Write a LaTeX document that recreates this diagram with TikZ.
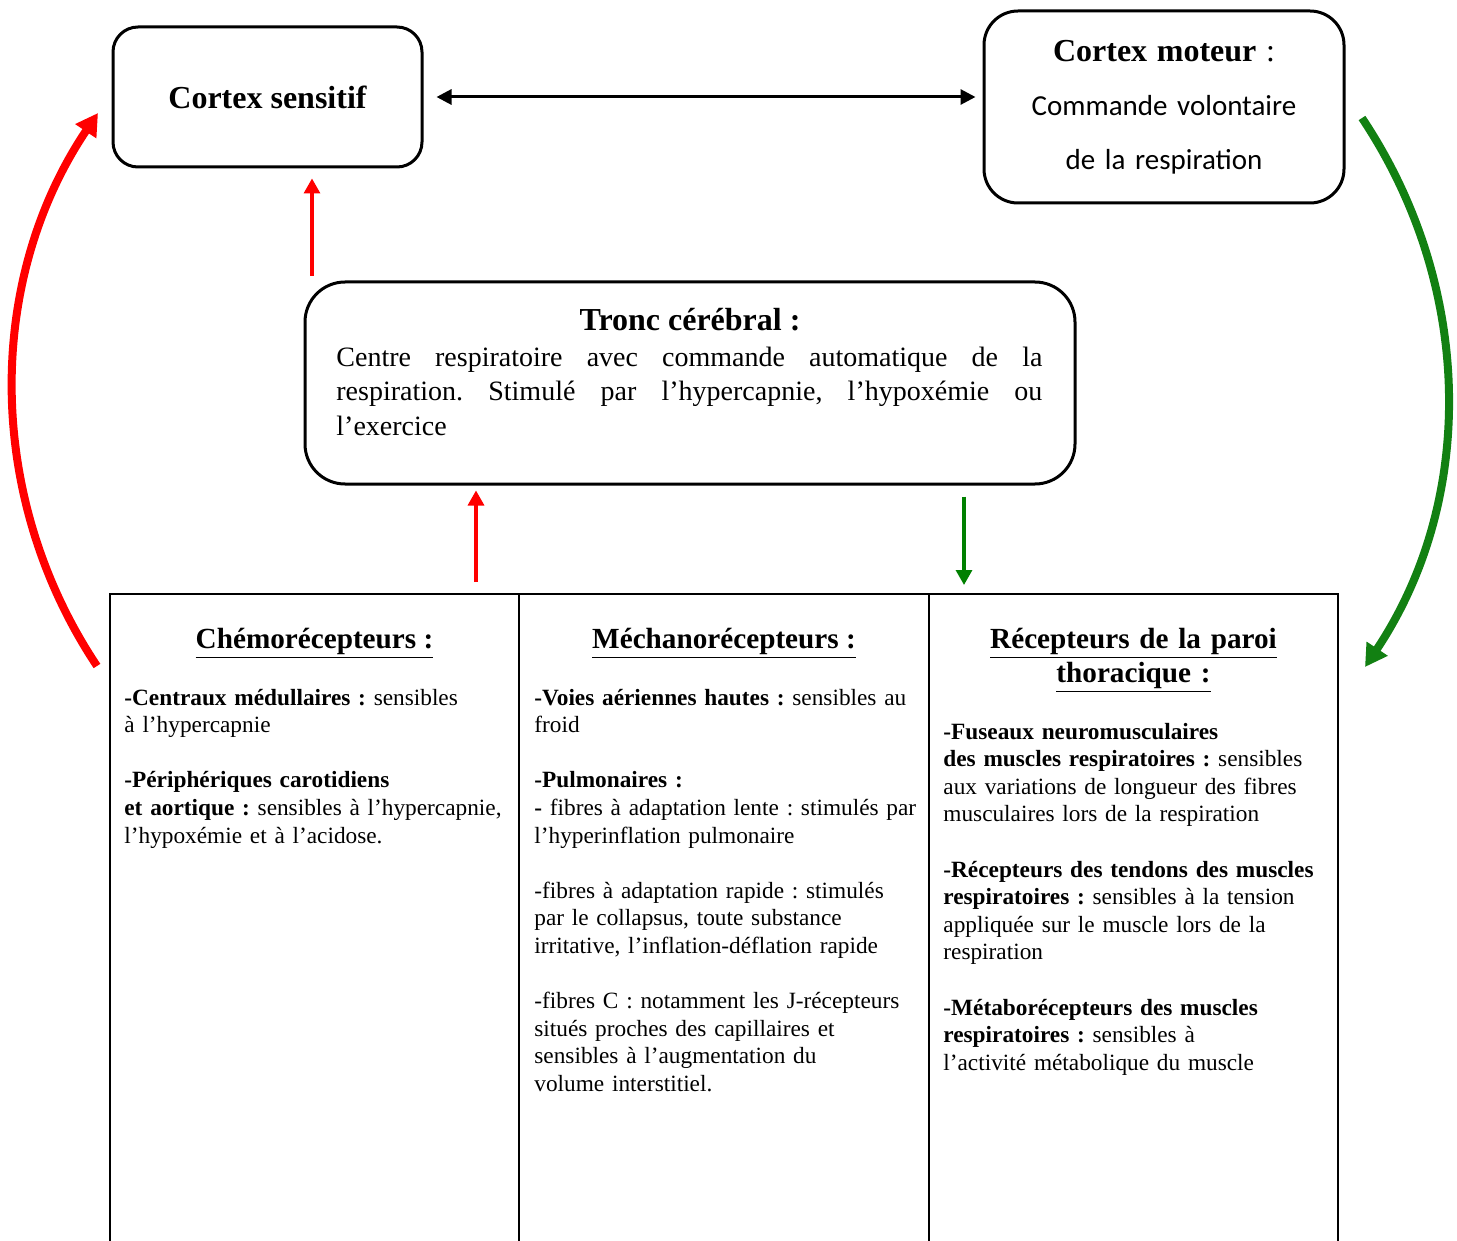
\documentclass[tikz,border=0pt]{standalone}
\usepackage{fontspec}
\setmainfont{Liberation Serif}
\newfontfamily\calib{Carlito}
\usetikzlibrary{arrows.meta}
\definecolor{mygreen}{RGB}{0,128,0}
\definecolor{arcgreen}{RGB}{18,128,18}
\definecolor{myred}{RGB}{255,0,0}
\frenchspacing
\begin{document}
\begin{tikzpicture}[x=0.5pt,y=-0.5pt,
  every node/.style={execute at begin node=\frenchspacing},
  rbox/.style={draw, line width=1.5pt, inner sep=0pt},
  head/.style={inner sep=0pt, font=\fontsize{14.6}{17}\selectfont\bfseries},
  body/.style={inner sep=0pt, text width=200pt, align=left, font=\fontsize{11.65}{13.8}\selectfont},
  tab/.style={line width=1pt},
  dbl/.style={line width=1.5pt, {Triangle[length=7.5pt,width=7.5pt]}-{Triangle[length=7.5pt,width=7.5pt]}},
  redar/.style={myred, line width=1.6pt, -{Triangle[length=7.5pt,width=8pt]}},
  greenar/.style={mygreen, line width=1.6pt, -{Triangle[length=7.5pt,width=8pt]}},
  bigred/.style={myred, line width=4pt, -{Triangle[length=11pt,width=12pt]}},
  biggreen/.style={arcgreen, line width=4pt, -{Triangle[length=11pt,width=12pt]}}]
\useasboundingbox (0,0) rectangle (1457,1241);

% top boxes
\node[rbox, rounded corners=12.5pt, minimum width=154.5pt, minimum height=70pt,
  font=\fontsize{16}{19}\selectfont\bfseries] (cs) at (267.5,97) {Cortex sensitif};
\node[rbox, rounded corners=17pt, minimum width=180pt, minimum height=96pt,
  text width=175pt, align=center, font=\fontsize{14.5}{27}\selectfont] (cm) at (1164,107)
  {{\fontsize{16}{27}\selectfont\textbf{Cortex moteur} :}\\
   {\calib Commande volontaire}\\
   {\calib de la respiration}};

% brainstem box
\node[rbox, rounded corners=20pt, minimum width=385pt, minimum height=101pt] (tc) at (690,383) {};
\node[inner sep=0pt, anchor=base, font=\fontsize{16}{19}\selectfont\bfseries] (tct) at (690,331) {Tronc cérébral :};
\node[anchor=base west, text width=353pt, align=justify, inner sep=0pt,
  font=\fontsize{14}{17.25}\selectfont] (tcb) at (336,366)
  {Centre respiratoire avec commande automatique de la\linebreak
   respiration. Stimulé par l’hypercapnie, l’hypoxémie ou\linebreak
   l’exercice};

% table
\draw[tab] (110,1241) -- (110,594) -- (1338,594) -- (1338,1241);
\draw[tab] (519,594) -- (519,1241);
\draw[tab] (929,594) -- (929,1241);

\node[head, anchor=base] (h1) at (314.5,648) {\underline{Chémorécepteurs :}};
\node[head, anchor=base] (h2) at (724,648) {\underline{Méchanorécepteurs :}};
\node[head, anchor=base, text width=195pt, align=center] (h3) at (1133.5,648)
  {\underline{Récepteurs de la paroi}\\\underline{thoracique :}};

\node[body, anchor=base west] (c1) at (124,705)
  {\textbf{-Centraux médullaires :} sensibles\\
   à l’hypercapnie\\[13.8pt]
   \textbf{-Périphériques carotidiens}\\
   \textbf{et aortique :} sensibles à l’hypercapnie,\\
   l’hypoxémie et à l’acidose.};

\node[body, anchor=base west] (c2) at (534,705)
  {\textbf{-Voies aériennes hautes :} sensibles au\\
   froid\\[13.8pt]
   \textbf{-Pulmonaires :}\\
   \textbf{-} fibres à adaptation lente : stimulés par\\
   l’hyperinflation pulmonaire\\[13.8pt]
   -fibres à adaptation rapide : stimulés\\
   par le collapsus, toute substance\\
   irritative, l’inflation-déflation rapide\\[13.8pt]
   -fibres C : notamment les J-récepteurs\\
   situés proches des capillaires et\\
   sensibles à l’augmentation du\\
   volume interstitiel.};

\node[body, anchor=base west] (c3) at (943,739)
  {\textbf{-Fuseaux neuromusculaires}\\
   \textbf{des muscles respiratoires :} sensibles\\
   aux variations de longueur des fibres\\
   musculaires lors de la respiration\\[13.8pt]
   \textbf{-Récepteurs des tendons des muscles}\\
   \textbf{respiratoires :} sensibles à la tension\\
   appliquée sur le muscle lors de la\\
   respiration\\[13.8pt]
   \textbf{-Métaborécepteurs des muscles}\\
   \textbf{respiratoires :} sensibles à\\
   l’activité métabolique du muscle};

% connectors
\draw[dbl, shorten <=6.5pt, shorten >=3.5pt] (cs.east) -- (cs.east -| cm.west);

\coordinate (r1) at (312,276);
\draw[redar, shorten >=5pt] (r1) -- (r1 |- cs.south);
\coordinate (r2) at (476,582);
\draw[redar, shorten >=2.5pt] (r2) -- (r2 |- tc.south);
\coordinate (g1) at (964,585);
\draw[greenar, shorten <=5.5pt] (g1 |- tc.south) -- (g1);

\coordinate (la) at (97,666);
\coordinate (lb) at (98,113);
\draw[bigred] (la) .. controls (-15,498) and (-15,281) .. (lb);
\coordinate (ra) at (1362,118);
\coordinate (rb) at (1365,667);
\draw[biggreen] (ra) .. controls (1474,286) and (1477,499) .. (rb);
\end{tikzpicture}
\end{document}
